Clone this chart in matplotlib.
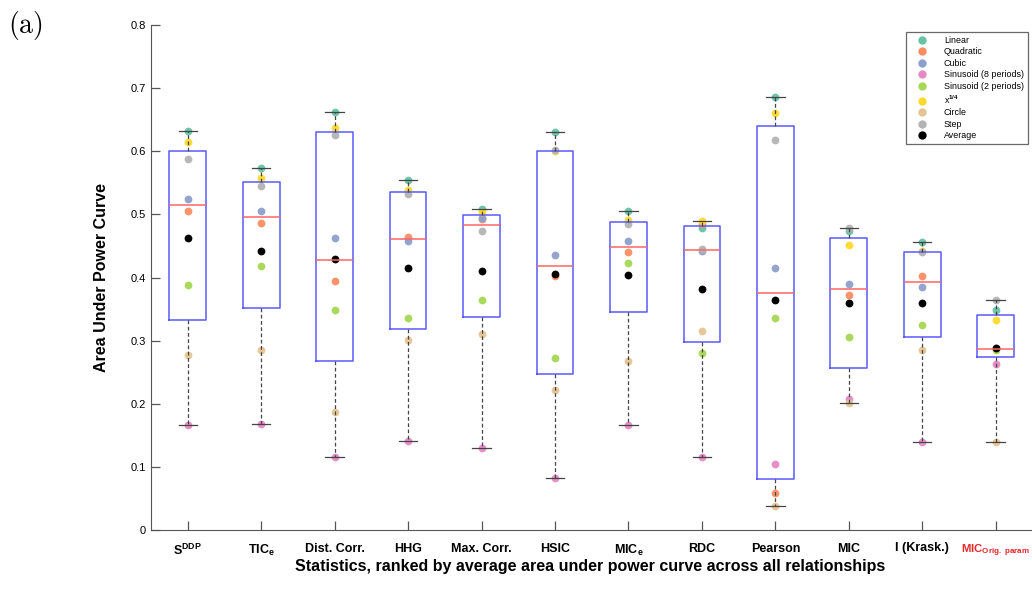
import numpy as np
import matplotlib
matplotlib.use("Agg")
import matplotlib.pyplot as plt
from matplotlib.lines import Line2D

plt.rcParams['font.family'] = ['Liberation Sans', 'DejaVu Sans']
plt.rcParams['mathtext.fontset'] = 'custom'
plt.rcParams['mathtext.rm'] = 'Liberation Sans:bold'
plt.rcParams['mathtext.it'] = 'Liberation Sans:bold'
plt.rcParams['mathtext.bf'] = 'Liberation Sans:bold'

# statistics (x axis), left to right
stats = [r'S$^{DDP}$', r'TIC$_e$', 'Dist. Corr.', 'HHG', 'Max. Corr.', 'HSIC',
         r'MIC$_e$', 'RDC', 'Pearson', 'MIC', 'I (Krask.)', r'MIC$_{Orig.\ param}$']

relationships = ['Linear', 'Quadratic', 'Cubic', 'Sinusoid (8 periods)',
                 'Sinusoid (2 periods)', r'x$^{1/4}$', 'Circle', 'Step']
rel_colors = ['#66c2a5', '#fc8d62', '#8da0cb', '#e78ac3',
              '#a6d854', '#ffd92f', '#e5c494', '#b3b3b3']

# area under power curve, one list per relationship (same order as stats)
linear    = [0.632, 0.573, 0.662, 0.554, 0.509, 0.630, 0.506, 0.479, 0.686, 0.473, 0.457, 0.348]
quadratic = [0.506, 0.487, 0.395, 0.464, 0.492, 0.403, 0.440, 0.484, 0.058, 0.372, 0.402, 0.288]
cubic     = [0.524, 0.506, 0.462, 0.458, 0.494, 0.435, 0.458, 0.442, 0.415, 0.390, 0.385, 0.287]
sin8      = [0.166, 0.168, 0.115, 0.141, 0.130, 0.082, 0.166, 0.116, 0.104, 0.207, 0.140, 0.263]
sin2      = [0.388, 0.418, 0.349, 0.336, 0.365, 0.273, 0.423, 0.281, 0.336, 0.306, 0.325, 0.285]
quarter   = [0.614, 0.558, 0.637, 0.539, 0.504, 0.600, 0.491, 0.490, 0.661, 0.451, 0.442, 0.333]
circle    = [0.278, 0.285, 0.187, 0.301, 0.311, 0.221, 0.268, 0.315, 0.038, 0.201, 0.285, 0.140]
step      = [0.587, 0.545, 0.625, 0.533, 0.474, 0.602, 0.484, 0.445, 0.618, 0.479, 0.440, 0.364]

data = np.array([linear, quadratic, cubic, sin8, sin2, quarter, circle, step])
average = data.mean(axis=0)

step_px = 73.45
fig = plt.figure(figsize=(10.32, 6.04), dpi=100)
ax = fig.add_axes([151/1032, 74/604, 12*step_px/1032, 505/604])

pos = np.arange(1, len(stats) + 1)

# MATLAB-like quartiles
stats_list = []
for j in range(len(stats)):
    col = data[:, j]
    stats_list.append(dict(med=np.percentile(col, 50, method='hazen'),
                           q1=np.percentile(col, 25, method='hazen'),
                           q3=np.percentile(col, 75, method='hazen'),
                           whislo=col.min(), whishi=col.max(), fliers=[]))

for i in range(len(relationships)):
    ax.plot(pos, data[i], 'o', color=rel_colors[i], ms=5.6, mec='none', alpha=0.95, zorder=2)
ax.plot(pos, average, 'o', color='black', ms=5.6, mec='none', zorder=3)

ax.bxp(stats_list, positions=pos, widths=0.5, showfliers=False,
       boxprops=dict(color='#5a5aff', lw=1.1),
       medianprops=dict(color='#ff6666', lw=1.1),
       whiskerprops=dict(color='#444444', lw=0.9, ls=(0, (3, 2))),
       capprops=dict(color='#444444', lw=0.9),
       zorder=4)

ax.set_xlim(0.5, 12.5)
ax.set_ylim(0, 0.8)
ax.set_yticks(np.arange(0, 0.81, 0.1))
ax.set_yticklabels(['0', '0.1', '0.2', '0.3', '0.4', '0.5', '0.6', '0.7', '0.8'], fontsize=8)
ax.set_xticks(pos)
ax.set_xticklabels(stats, fontsize=9, fontweight='bold')
last = ax.get_xticklabels()[-1]
last.set_color('#e8262b')
last.set_fontsize(8.2)
ax.tick_params(direction='in', length=6.5, color='#555555', width=0.9)
ax.tick_params(axis='x', pad=9)
for s in ['top', 'right']:
    ax.spines[s].set_visible(False)
for s in ['left', 'bottom']:
    ax.spines[s].set_color('#555555')

ax.set_ylabel('Area Under Power Curve', fontsize=11.5, fontweight='bold', labelpad=16)
ax.set_xlabel('Statistics, ranked by average area under power curve across all relationships',
              fontsize=11.5, fontweight='bold')
ax.xaxis.set_label_coords((590 - 151) / (12*step_px), -0.058)

handles = [Line2D([], [], ls='none', marker='o', color=c, ms=6, mec='none')
           for c in rel_colors]
handles.append(Line2D([], [], ls='none', marker='o', color='black', ms=6, mec='none'))
leg = fig.legend(handles, relationships + ['Average'], loc='upper right',
                 bbox_to_anchor=(1028/1032, 1 - 32/604), fontsize=6.4,
                 frameon=True, fancybox=False, borderaxespad=0,
                 handlelength=2.6, handletextpad=1.2, labelspacing=0.28,
                 borderpad=0.45)
leg.get_frame().set_edgecolor('#444444')
leg.get_frame().set_linewidth(0.9)

fig.text(0.008, 0.945, r'$\mathrm{(a)}$', fontsize=20, math_fontfamily='cm')

fig.savefig('out.png', dpi=100)
